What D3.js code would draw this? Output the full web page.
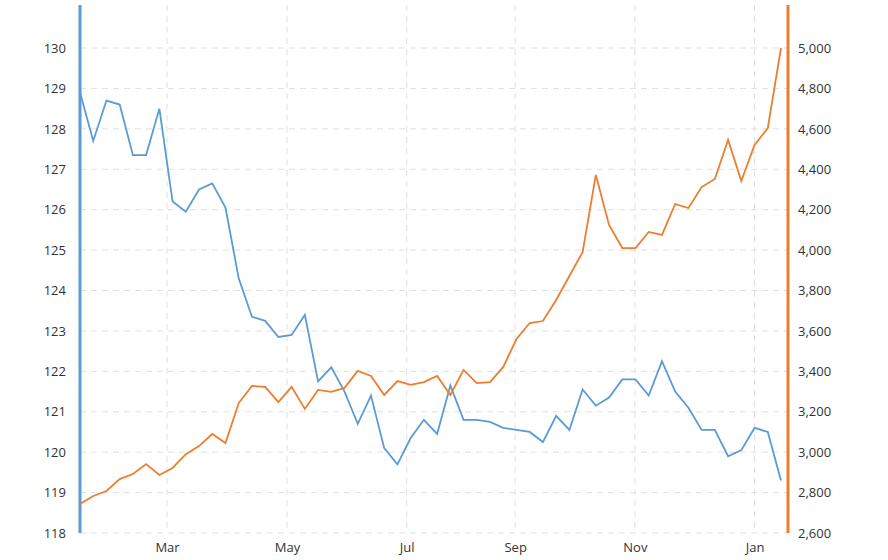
<!DOCTYPE html>
<html><head><meta charset="utf-8">
<script src="https://cdn.jsdelivr.net/npm/d3@7"></script>
<style>body{margin:0;background:#fff}text{font-family:"Open Sans",sans-serif;font-size:13px;fill:#333}</style>
</head><body><svg id="c" width="888" height="560"></svg>
<script>
const blueValues = [128.9,127.7,128.7,128.6,127.35,127.35,128.5,126.2,125.95,126.5,126.65,126.05,124.3,123.35,123.25,122.85,122.9,123.4,121.75,122.1,121.5,120.7,121.4,120.1,119.7,120.35,120.8,120.45,121.65,120.8,120.8,120.75,120.6,120.55,120.5,120.25,120.9,120.55,121.55,121.15,121.35,121.8,121.8,121.4,122.25,121.5,121.1,120.55,120.55,119.9,120.05,120.6,120.5,119.3];
const orangeValues = [2744,2783,2808,2867,2892,2941,2887,2922,2990,3030,3090,3045,3243,3328,3323,3248,3323,3214,3308,3298,3318,3402,3377,3283,3352,3333,3347,3377,3283,3407,3342,3347,3422,3560,3639,3649,3753,3872,3990,4372,4124,4010,4010,4090,4075,4228,4208,4312,4352,4545,4342,4520,4604,5000];
const leftTicks = [118,119,120,121,122,123,124,125,126,127,128,129,130];
const rightTicks = [2600,2800,3000,3200,3400,3600,3800,4000,4200,4400,4600,4800,5000];
const monthLabels = ["Mar","May","Jul","Sep","Nov","Jan"];
const monthIndex = [6.58,15.65,24.7,32.9,41.95,51.0]; // position of month start in week-index units

const svg = d3.select("#c");
const L=80,R=788,T=5,B=533;
const x = d3.scaleLinear().domain([0,blueValues.length-1]).range([L,781]);
const yL = d3.scaleLinear().domain([118,130]).range([B,48]);
const yR = d3.scaleLinear().domain([2600,5000]).range([B,48]);

const g = svg.append("g");
g.selectAll(".hg").data(leftTicks).join("line").attr("x1",L).attr("x2",R)
 .attr("y1",d=>yL(d)).attr("y2",d=>yL(d)).attr("stroke","#e0e0e0").attr("stroke-dasharray","6,5");
g.selectAll(".vg").data(monthIndex).join("line").attr("x1",d=>x(d)).attr("x2",d=>x(d))
 .attr("y1",T).attr("y2",B).attr("stroke","#e0e0e0").attr("stroke-dasharray","6,5");

const ax = svg.append("g").attr("transform",`translate(0,${B})`)
 .call(d3.axisBottom(x).tickValues(monthIndex).tickFormat((d,i)=>monthLabels[i]).tickSize(0).tickPadding(10));
ax.select(".domain").remove();
const al = svg.append("g").attr("transform",`translate(${L},0)`)
 .call(d3.axisLeft(yL).tickValues(leftTicks).tickFormat(d3.format("d")).tickSize(0).tickPadding(14));
al.select(".domain").remove();
const ar = svg.append("g").attr("transform",`translate(${R},0)`)
 .call(d3.axisRight(yR).tickValues(rightTicks).tickFormat(d3.format(",")).tickSize(0).tickPadding(10));
ar.select(".domain").remove();
svg.selectAll(".tick text").style("font-family","'Open Sans',sans-serif").style("font-size","13px").attr("fill","#333");

svg.append("line").attr("x1",L).attr("x2",L).attr("y1",T).attr("y2",B).attr("stroke","#5b9bd5").attr("stroke-width",3);
svg.append("line").attr("x1",R).attr("x2",R).attr("y1",T).attr("y2",B).attr("stroke","#ed7d31").attr("stroke-width",3);

svg.append("path").datum(blueValues).attr("fill","none").attr("stroke","#5b9bd5").attr("stroke-width",1.8)
 .attr("d",d3.line().x((d,i)=>x(i)).y(d=>yL(d)));
svg.append("path").datum(orangeValues).attr("fill","none").attr("stroke","#ed7d31").attr("stroke-width",1.8)
 .attr("d",d3.line().x((d,i)=>x(i)).y(d=>yR(d)));
</script></body></html>
